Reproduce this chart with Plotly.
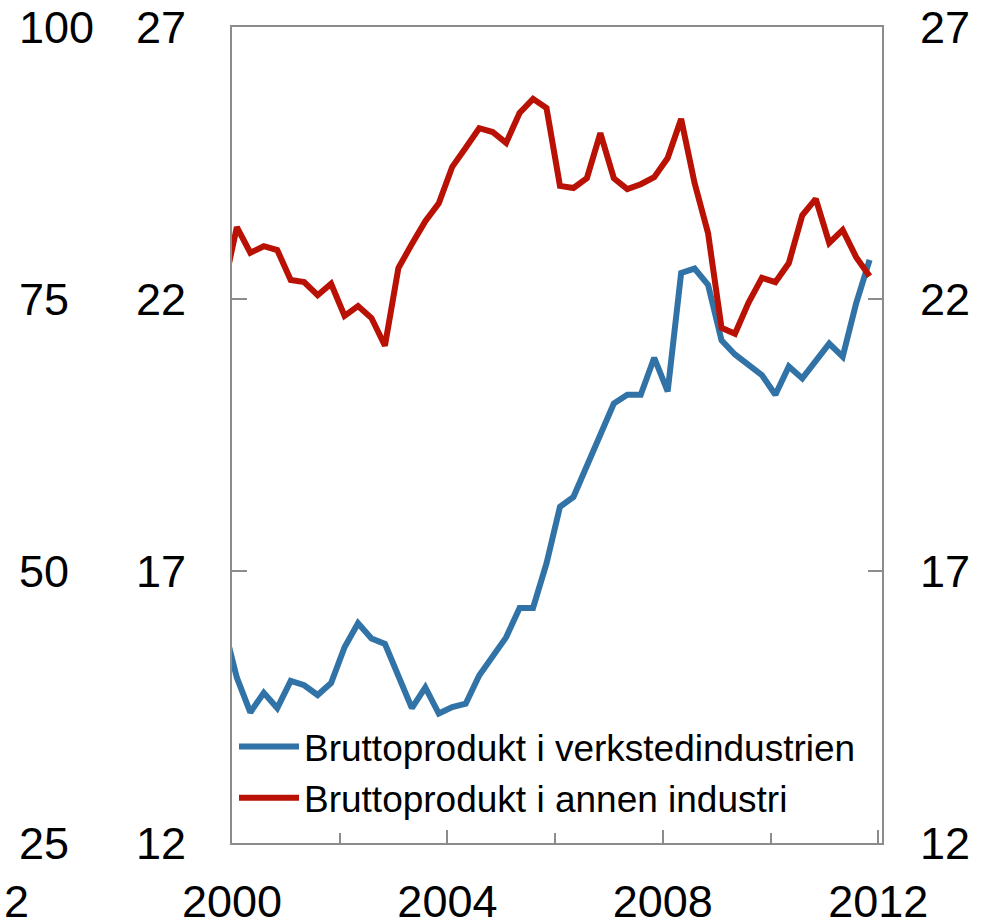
import plotly.graph_objects as go

# Quarterly observations, 1999Q4 .. 2011Q4 (first point lies just left of the axis and is clipped)
quarters = ["1999Q4"] + [f"{y}Q{q}" for y in range(2000, 2012) for q in range(1, 5)]

# Bruttoprodukt i verkstedindustrien (left outer axis, 25-100)
verksted = [45.1, 40.2, 37.0, 38.8, 37.4, 39.9, 39.5, 38.6, 39.7, 43.0, 45.2, 43.8, 43.3,
            40.2, 37.4, 39.3, 36.9, 37.5, 37.8, 40.4, 42.1, 43.9, 46.6, 46.6, 50.7,
            55.9, 56.8, 59.7, 62.7, 65.4, 66.2, 66.2, 69.6, 66.5, 77.4, 77.8, 76.3,
            71.2, 69.9, 69.0, 68.0, 66.2, 68.8, 67.7, 69.4, 70.9, 69.7, 74.6, 78.6]

# Bruttoprodukt i annen industri (right axis, 12-27)
annen = [22.18, 23.32, 22.85, 22.97, 22.90, 22.35, 22.31, 22.07, 22.28, 21.69, 21.87, 21.65, 21.14,
         22.57, 23.01, 23.43, 23.76, 24.43, 24.78, 25.14, 25.07, 24.87, 25.42, 25.68, 25.51,
         24.08, 24.04, 24.22, 25.05, 24.22, 24.02, 24.11, 24.24, 24.59, 25.31, 24.13, 23.21,
         21.47, 21.36, 21.93, 22.39, 22.31, 22.66, 23.54, 23.84, 23.03, 23.27, 22.77, 22.42]

names = ["Bruttoprodukt i verkstedindustrien", "Bruttoprodukt i annen industri"]
x_tickvals = [2000, 2004, 2008, 2012]
x_ticktext = ["2000", "2004", "2008", "2012"]
x_minor_ticks = [2002, 2006, 2010]
y_outer_ticks = [25, 50, 75, 100]
y_inner_ticks = [12, 17, 22, 27]


def qpos(label):
    y, q = label.split("Q")
    return int(y) + (int(q) - 1) / 4 + 0.09


xs = [qpos(q) for q in quarters]

BLUE = "#3173A7"
RED = "#B91204"
FRAME = "#8C8C8C"
FONT = "Liberation Sans, Arial, sans-serif"
TICKFONT = dict(family=FONT, size=45, color="black")

fig = go.Figure()
fig.add_trace(go.Scatter(x=xs, y=verksted, name=names[0], mode="lines",
                         line=dict(color=BLUE, width=6), yaxis="y"))
# the inner left axis (12-27) carries no series of its own; an empty trace registers it
fig.add_trace(go.Scatter(x=[], y=[], yaxis="y2", showlegend=False, hoverinfo="skip"))
fig.add_trace(go.Scatter(x=xs, y=annen, name=names[1], mode="lines",
                         line=dict(color=RED, width=6), yaxis="y3"))

L, R, T, B = 0, 113, 27, 80
W, H = 995, 923
pw = W - L - R
x0 = (232 - L) / pw

fig.update_layout(
    template="none",
    width=W, height=H,
    margin=dict(l=L, r=R, t=T, b=B),
    paper_bgcolor="white", plot_bgcolor="white",
    font=dict(family=FONT, size=45, color="black"),
    showlegend=True,
    legend=dict(x=(234 - L) / pw, y=(843 - 716) / 816, xanchor="left", yanchor="top",
                bgcolor="rgba(0,0,0,0)", borderwidth=0,
                font=dict(family=FONT, size=37, color="black"),
                itemwidth=60, tracegroupgap=0),
    xaxis=dict(domain=[x0, 1], range=[2000, 2012.07], showgrid=False, zeroline=False,
               showline=True, linecolor=FRAME, linewidth=2, mirror=True,
               tickmode="array", tickvals=x_tickvals, ticktext=x_ticktext,
               ticks="inside", ticklen=13, tickwidth=2, tickcolor=FRAME,
               minor=dict(tickmode="array", tickvals=x_minor_ticks, ticks="inside",
                          ticklen=10, tickwidth=2, tickcolor=FRAME, showgrid=False),
               ticklabelstandoff=18, automargin=False, tickfont=TICKFONT),
    yaxis=dict(range=[25, 100], anchor="free", position=0, side="right",
               showgrid=False, zeroline=False, showline=False,
               tickmode="array", tickvals=y_outer_ticks, ticks="",
               ticklabelstandoff=18, automargin=False, tickfont=TICKFONT),
    yaxis2=dict(range=[12, 27], overlaying="y", anchor="x", side="left",
                showgrid=False, zeroline=False, showline=True, linecolor=FRAME, linewidth=2,
                tickmode="array", tickvals=y_inner_ticks,
                ticks="inside", ticklen=15, tickwidth=2, tickcolor=FRAME,
                ticklabelstandoff=35, automargin=False, tickfont=TICKFONT),
    yaxis3=dict(range=[12, 27], overlaying="y", anchor="x", side="right",
                showgrid=False, zeroline=False, showline=True, linecolor=FRAME, linewidth=2,
                tickmode="array", tickvals=y_inner_ticks,
                ticks="inside", ticklen=14, tickwidth=2, tickcolor=FRAME,
                ticklabelstandoff=27, automargin=False, tickfont=TICKFONT),
)

fig.add_annotation(text="2", xref="paper", yref="paper", x=(3 - L) / pw, y=(843 - 901) / 816,
                   xanchor="left", yanchor="middle", showarrow=False,
                   font=dict(family=FONT, size=45, color="black"), borderpad=0)

fig.write_html("out.html", config={"displayModeBar": False},
               post_script="document.body.style.margin='0';document.body.style.padding='0';")
